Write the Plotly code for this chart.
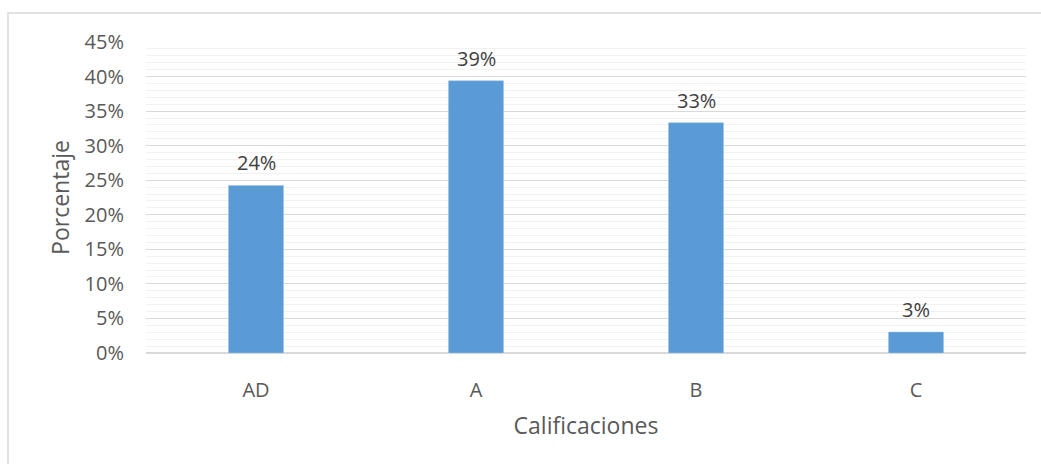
import plotly.graph_objects as go

categories = ["AD", "A", "B", "C"]
values = [8/33, 13/33, 11/33, 1/33]
y_ticks = [0, 0.05, 0.10, 0.15, 0.20, 0.25, 0.30, 0.35, 0.40, 0.45]

FONT = "Open Sans, sans-serif"
W, H = 1041, 464
L, R, T, B = 146, 15, 42, 111
pw, ph = W - L - R, H - T - B

fig = go.Figure()
fig.add_trace(go.Bar(
    x=categories, y=values, width=0.25,
    marker=dict(color="#5B9BD5", line=dict(color="#9DC3E6", width=0.5)),
    hoverinfo="skip",
))
for c, v in zip(categories, values):
    fig.add_annotation(x=c, y=v, text=f"{v*100:.0f}%", showarrow=False,
                       yanchor="bottom", yshift=7,
                       font=dict(family=FONT, size=20, color="#404040"))

# outer chart border
fig.add_shape(type="rect", xref="paper", yref="paper",
              x0=(8 - L) / pw, x1=(W + 5 - L) / pw,
              y0=-(H + 5 - T - ph) / ph, y1=(T + ph - 13) / ph,
              line=dict(color="#D9D9D9", width=1.5), fillcolor="rgba(0,0,0,0)", layer="below")

fig.update_layout(
    width=W, height=H,
    margin=dict(l=L, r=R, t=T, b=B),
    paper_bgcolor="white", plot_bgcolor="white",
    showlegend=False,
    font=dict(family=FONT, size=20, color="#595959"),
    xaxis=dict(
        title=dict(text="Calificaciones", font=dict(size=23, color="#595959"), standoff=15),
        showgrid=False, showline=False, zeroline=False, automargin=False,
        ticks="", ticklabelstandoff=23,
        tickfont=dict(size=20, color="#595959"),
        range=[-0.5, 3.5],
    ),
    yaxis=dict(
        title=dict(text="Porcentaje", font=dict(size=23, color="#595959"), standoff=8),
        range=[0, 0.45], tickvals=y_ticks, tickformat=".0%",
        showgrid=True, gridcolor="#D9D9D9", gridwidth=1.3,
        zeroline=True, zerolinecolor="#D9D9D9", zerolinewidth=1.5,
        showline=False, ticks="", ticklabelstandoff=21, automargin=False,
        tickfont=dict(size=20, color="#595959"),
        minor=dict(dtick=0.01, showgrid=True, gridcolor="#F2F2F2", gridwidth=1.3),
    ),
)

fig.write_html("out.html", config={"displayModeBar": False},
               post_script="document.body.style.margin='0';document.body.style.padding='0';")
